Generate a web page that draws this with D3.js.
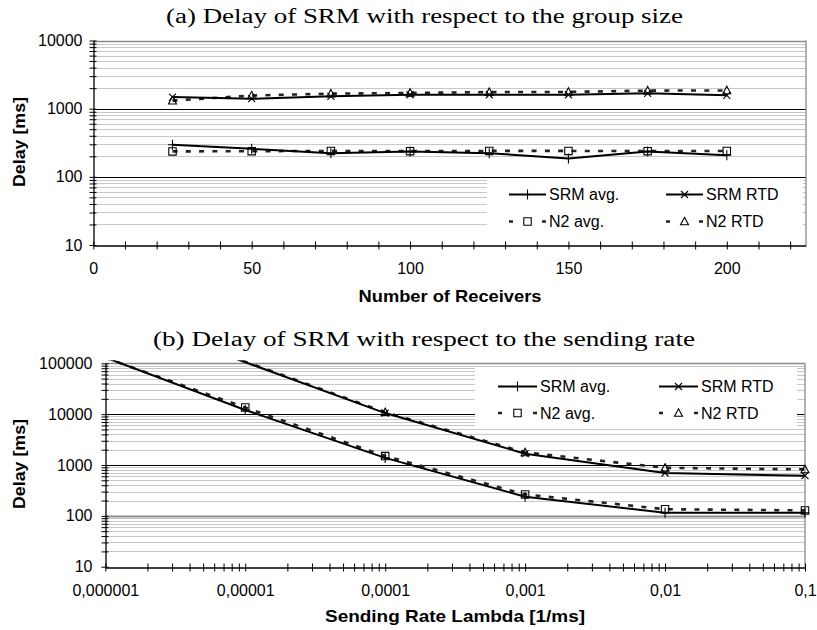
<!DOCTYPE html>
<html>
<head>
<meta charset="utf-8">
<script src="https://cdn.jsdelivr.net/npm/d3@7"></script>
<style>
  body { margin: 0; background: #fff; }
  svg { display: block; }
  .tick text { font-family: "Liberation Sans", Arial, sans-serif; font-size: 16px; fill: #000; }
  .axis-title { font-family: "Liberation Sans", Arial, sans-serif; font-size: 17px; font-weight: bold; }
  .chart-title { font-family: "Liberation Serif", "Times New Roman", serif; font-size: 20px; }
  .legend-text { font-family: "Liberation Sans", Arial, sans-serif; font-size: 16px; }
</style>
</head>
<body>
<svg id="chart" width="817" height="630"></svg>
<script>
// ---- data ----
// (a) delay vs group size
const groupSizes = [25, 50, 75, 100, 125, 150, 175, 200];
const srmAvgA = [295, 258, 222, 236, 222, 186, 236, 207];
const srmRtdA = [1480, 1400, 1520, 1600, 1600, 1600, 1680, 1570];
const n2AvgA  = [236, 238, 240, 238, 240, 240, 238, 240];
const n2RtdA  = [1310, 1560, 1660, 1700, 1750, 1760, 1840, 1850];

// (b) delay vs sending rate
const sendRates = [0.000001, 0.00001, 0.0001, 0.001, 0.01, 0.1];
const srmAvgB = [130000, 12100, 1380, 238, 115, 115];
const n2AvgB  = [128000, 13500, 1500, 264, 135, 128];
const srmRtdB = [1050000, 105000, 10500, 1670, 696, 615];
const n2RtdB  = [1080000, 108000, 10900, 1770, 880, 820];

// ticks / labels
const xTicksA = d3.range(0, 221, 10);
const xLabelsA = [0, 50, 100, 150, 200];
const yMajorA = [10, 100, 1000, 10000];
const xMajorB = [0.000001, 0.00001, 0.0001, 0.001, 0.01, 0.1];
const xLabelsB = ['0,000001', '0,00001', '0,0001', '0,001', '0,01', '0,1'];
const yMajorB = [10, 100, 1000, 10000, 100000];

const seriesNames = ['SRM avg.', 'SRM RTD', 'N2 avg.', 'N2 RTD'];
const titleA = '(a) Delay of SRM with respect to the group size';
const titleB = '(b) Delay of SRM with respect to the sending rate';

// ---- drawing ----
const svg = d3.select('#chart');

// marker shapes (stroked)
const markerPath = {
  plus: 'M-4.5,0H4.5M0,-5V5',
  cross: 'M-3.5,-3.5L3.5,3.5M-3.5,3.5L3.5,-3.5',
  square: 'M-3.7,-3.7H3.7V3.7H-3.7Z',
  triangle: 'M0,-4.2L4,3.3H-4Z'
};

const styles = [
  { name: seriesNames[0], marker: 'plus',     dash: null,    color: '#000', width: 2 },
  { name: seriesNames[1], marker: 'cross',    dash: null,    color: '#000', width: 2 },
  { name: seriesNames[2], marker: 'square',   dash: '5,8.3', color: '#222', width: 2.6 },
  { name: seriesNames[3], marker: 'triangle', dash: '5,8.3', color: '#222', width: 2.6 }
];

// minor decade values between lo and hi (2..9 multiples)
function minorLog(lo, hi) {
  let out = [];
  for (let d = lo; d < hi; d *= 10) {
    for (let k = 2; k <= 9; k++) out.push(d * k);
  }
  return out;
}

function drawPanel(cfg, id) {
  let g = svg.append('g');
  let x = cfg.xScale.range([cfg.left, cfg.right]);
  let y = cfg.yScale.range([cfg.bottom, cfg.top]);

  // minor gridlines
  g.selectAll('.minor-grid')
    .data(cfg.yMinor)
    .join('line')
      .attr('x1', cfg.left).attr('x2', cfg.right)
      .attr('y1', d => Math.round(y(d)) + 0.5).attr('y2', d => Math.round(y(d)) + 0.5)
      .attr('stroke', '#c8c8c8').attr('stroke-width', 1);

  // major gridlines
  g.selectAll('.major-grid')
    .data(cfg.yGrid)
    .join('line')
      .attr('x1', cfg.left).attr('x2', cfg.right)
      .attr('y1', d => Math.round(y(d)) + 0.5).attr('y2', d => Math.round(y(d)) + 0.5)
      .attr('stroke', d => cfg.gridColor(d)).attr('stroke-width', d => cfg.gridWidth(d));

  // plot frame top / right (gray)
  g.append('line')
    .attr('x1', cfg.left).attr('x2', cfg.right)
    .attr('y1', Math.round(cfg.top) + 0.5).attr('y2', Math.round(cfg.top) + 0.5)
    .attr('stroke', '#8a8a8a').attr('stroke-width', 1.3);
  g.append('line')
    .attr('x1', cfg.right).attr('x2', cfg.right)
    .attr('y1', cfg.top).attr('y2', cfg.bottom)
    .attr('stroke', '#8a8a8a').attr('stroke-width', 1.3);

  // clip for series
  svg.append('clipPath').attr('id', 'clip' + id)
    .append('rect')
      .attr('x', cfg.left - 2).attr('y', cfg.top - 3)
      .attr('width', cfg.right - cfg.left + 8).attr('height', cfg.bottom - cfg.top + 3);

  let plot = g.append('g').attr('clip-path', `url(#clip${id})`);
  let line = d3.line().x(d => x(d[0])).y(d => y(d[1]));
  let yDom = cfg.yScale.domain();

  // draw dashed first, then solid on top
  [2, 3, 0, 1].forEach(i => {
    let st = styles[i];
    let pts = cfg.xs.map((v, j) => [v, cfg.series[i][j]]);
    plot.append('path')
      .attr('d', line(pts))
      .attr('fill', 'none')
      .attr('stroke', st.color)
      .attr('stroke-width', st.width)
      .attr('stroke-dasharray', st.dash)
      .attr('stroke-linejoin', 'round');
    plot.selectAll('.m' + i)
      .data(pts.filter(p => p[1] >= yDom[0] && p[1] <= yDom[1]))
      .join('path')
        .attr('transform', d => `translate(${x(d[0])},${y(d[1])})`)
        .attr('d', markerPath[st.marker])
        .attr('fill', 'none')
        .attr('stroke', '#000')
        .attr('stroke-width', 1.1);
  });

  // axes
  let xAxis = d3.axisBottom(x)
    .tickValues(cfg.xTicks)
    .tickSize(4)
    .tickSizeOuter(0)
    .tickFormat(cfg.xFormat);
  let xAxisG = g.append('g')
    .attr('transform', `translate(0,${Math.round(cfg.bottom) + 0.5})`)
    .call(xAxis);
  xAxisG.selectAll('.tick line').attr('y1', -4).attr('stroke', '#000');
  xAxisG.selectAll('.tick text').attr('y', cfg.xLabelDy).attr('dy', 0);
  xAxisG.select('.domain').attr('stroke', '#000').attr('stroke-width', 1.3);
  xAxisG.attr('font-size', null).attr('font-family', null);

  let yAxis = d3.axisLeft(y)
    .tickValues(cfg.yTicks)
    .tickSize(4)
    .tickSizeOuter(0)
    .tickFormat(d => cfg.yMajor.includes(d) ? String(d) : '');
  let yAxisG = g.append('g')
    .attr('transform', `translate(${Math.round(cfg.left) + 0.5},0)`)
    .call(yAxis);
  yAxisG.selectAll('.tick line').attr('x1', 3).attr('stroke', '#000');
  yAxisG.selectAll('.tick text').attr('x', -cfg.yLabelGap);
  yAxisG.select('.domain').attr('stroke', '#000').attr('stroke-width', 1.3);
  yAxisG.attr('font-size', null).attr('font-family', null);

  // legend
  let lg = g.append('g');
  lg.append('rect')
    .attr('x', cfg.legend.x0).attr('y', cfg.legend.y0)
    .attr('width', cfg.legend.x1 - cfg.legend.x0)
    .attr('height', cfg.legend.y1 - cfg.legend.y0)
    .attr('fill', '#fff');
  styles.forEach((st, i) => {
    let lx = cfg.legend.cols[i % 2];
    let ly = cfg.legend.rows[Math.floor(i / 2)];
    let len = cfg.legend.sample;
    lg.append('line')
      .attr('x1', lx).attr('x2', lx + len)
      .attr('y1', ly).attr('y2', ly)
      .attr('stroke', st.color)
      .attr('stroke-width', st.width)
      .attr('stroke-dasharray', st.dash ? `4,${len - 8},4` : null);
    lg.append('path')
      .attr('transform', `translate(${lx + len / 2},${ly})`)
      .attr('d', markerPath[st.marker])
      .attr('fill', 'none').attr('stroke', '#000').attr('stroke-width', 1.1);
    lg.append('text')
      .attr('class', 'legend-text')
      .attr('x', lx + len + 3).attr('y', ly)
      .attr('dy', '0.36em')
      .text(st.name);
  });

  // titles
  g.append('text')
    .attr('class', 'chart-title')
    .attr('x', cfg.titleX).attr('y', cfg.titleY)
    .attr('text-anchor', 'middle')
    .attr('textLength', cfg.titleLen)
    .attr('lengthAdjust', 'spacingAndGlyphs')
    .text(cfg.title);

  g.append('text')
    .attr('class', 'axis-title')
    .attr('x', cfg.xTitleX).attr('y', cfg.xTitleY)
    .attr('text-anchor', 'middle')
    .attr('textLength', cfg.xTitleLen)
    .attr('lengthAdjust', 'spacingAndGlyphs')
    .text(cfg.xTitle);

  g.append('text')
    .attr('class', 'axis-title')
    .attr('transform', `translate(25,${cfg.yTitleY}) rotate(-90)`)
    .attr('text-anchor', 'middle')
    .attr('textLength', 90)
    .attr('lengthAdjust', 'spacingAndGlyphs')
    .text('Delay [ms]');
}

drawPanel({
  title: titleA, titleX: 424.5, titleY: 23, titleLen: 517,
  left: 93.3, right: 806, top: 40.5, bottom: 245,
  xScale: d3.scaleLinear().domain([0, 225]),
  yScale: d3.scaleLog().domain([10, 10000]),
  xs: groupSizes,
  series: [srmAvgA, srmRtdA, n2AvgA, n2RtdA],
  xTicks: xTicksA,
  xFormat: d => xLabelsA.includes(d) ? String(d) : '',
  xLabelDy: 28,
  yMajor: yMajorA,
  yTicks: yMajorA.concat(minorLog(10, 10000)),
  yMinor: minorLog(10, 10000),
  yGrid: [100, 1000],
  gridColor: () => '#000',
  gridWidth: () => 1,
  yLabelGap: 11,
  legend: { x0: 487, y0: 180, x1: 803, y1: 231, cols: [509, 666], rows: [194.5, 221.5], sample: 37 },
  xTitle: 'Number of Receivers', xTitleX: 450, xTitleY: 302, xTitleLen: 183,
  yTitleY: 142
}, 'A');

drawPanel({
  title: titleB, titleX: 424, titleY: 346, titleLen: 542,
  left: 105.3, right: 805, top: 363.3, bottom: 566.7,
  xScale: d3.scaleLog().domain([0.000001, 0.1]),
  yScale: d3.scaleLog().domain([10, 100000]),
  xs: sendRates,
  series: [srmAvgB, srmRtdB, n2AvgB, n2RtdB],
  xTicks: xMajorB.concat(minorLog(0.000001, 0.1)),
  xFormat: d => { let i = xMajorB.findIndex(v => Math.abs(v - d) < d * 1e-6); return i >= 0 ? xLabelsB[i] : ''; },
  xLabelDy: 28.5,
  yMajor: yMajorB,
  yTicks: yMajorB.concat(minorLog(10, 100000)),
  yMinor: minorLog(10, 100000),
  yGrid: [100, 1000, 10000],
  gridColor: d => d === 100 ? '#8c8c8c' : '#000',
  gridWidth: d => d === 100 ? 2 : 1,
  yLabelGap: 13,
  legend: { x0: 475, y0: 368, x1: 797, y1: 427, cols: [498, 659], rows: [386.5, 413], sample: 39 },
  xTitle: 'Sending Rate Lambda [1/ms]', xTitleX: 455, xTitleY: 622, xTitleLen: 260,
  yTitleY: 464
}, 'B');
</script>
</body>
</html>
